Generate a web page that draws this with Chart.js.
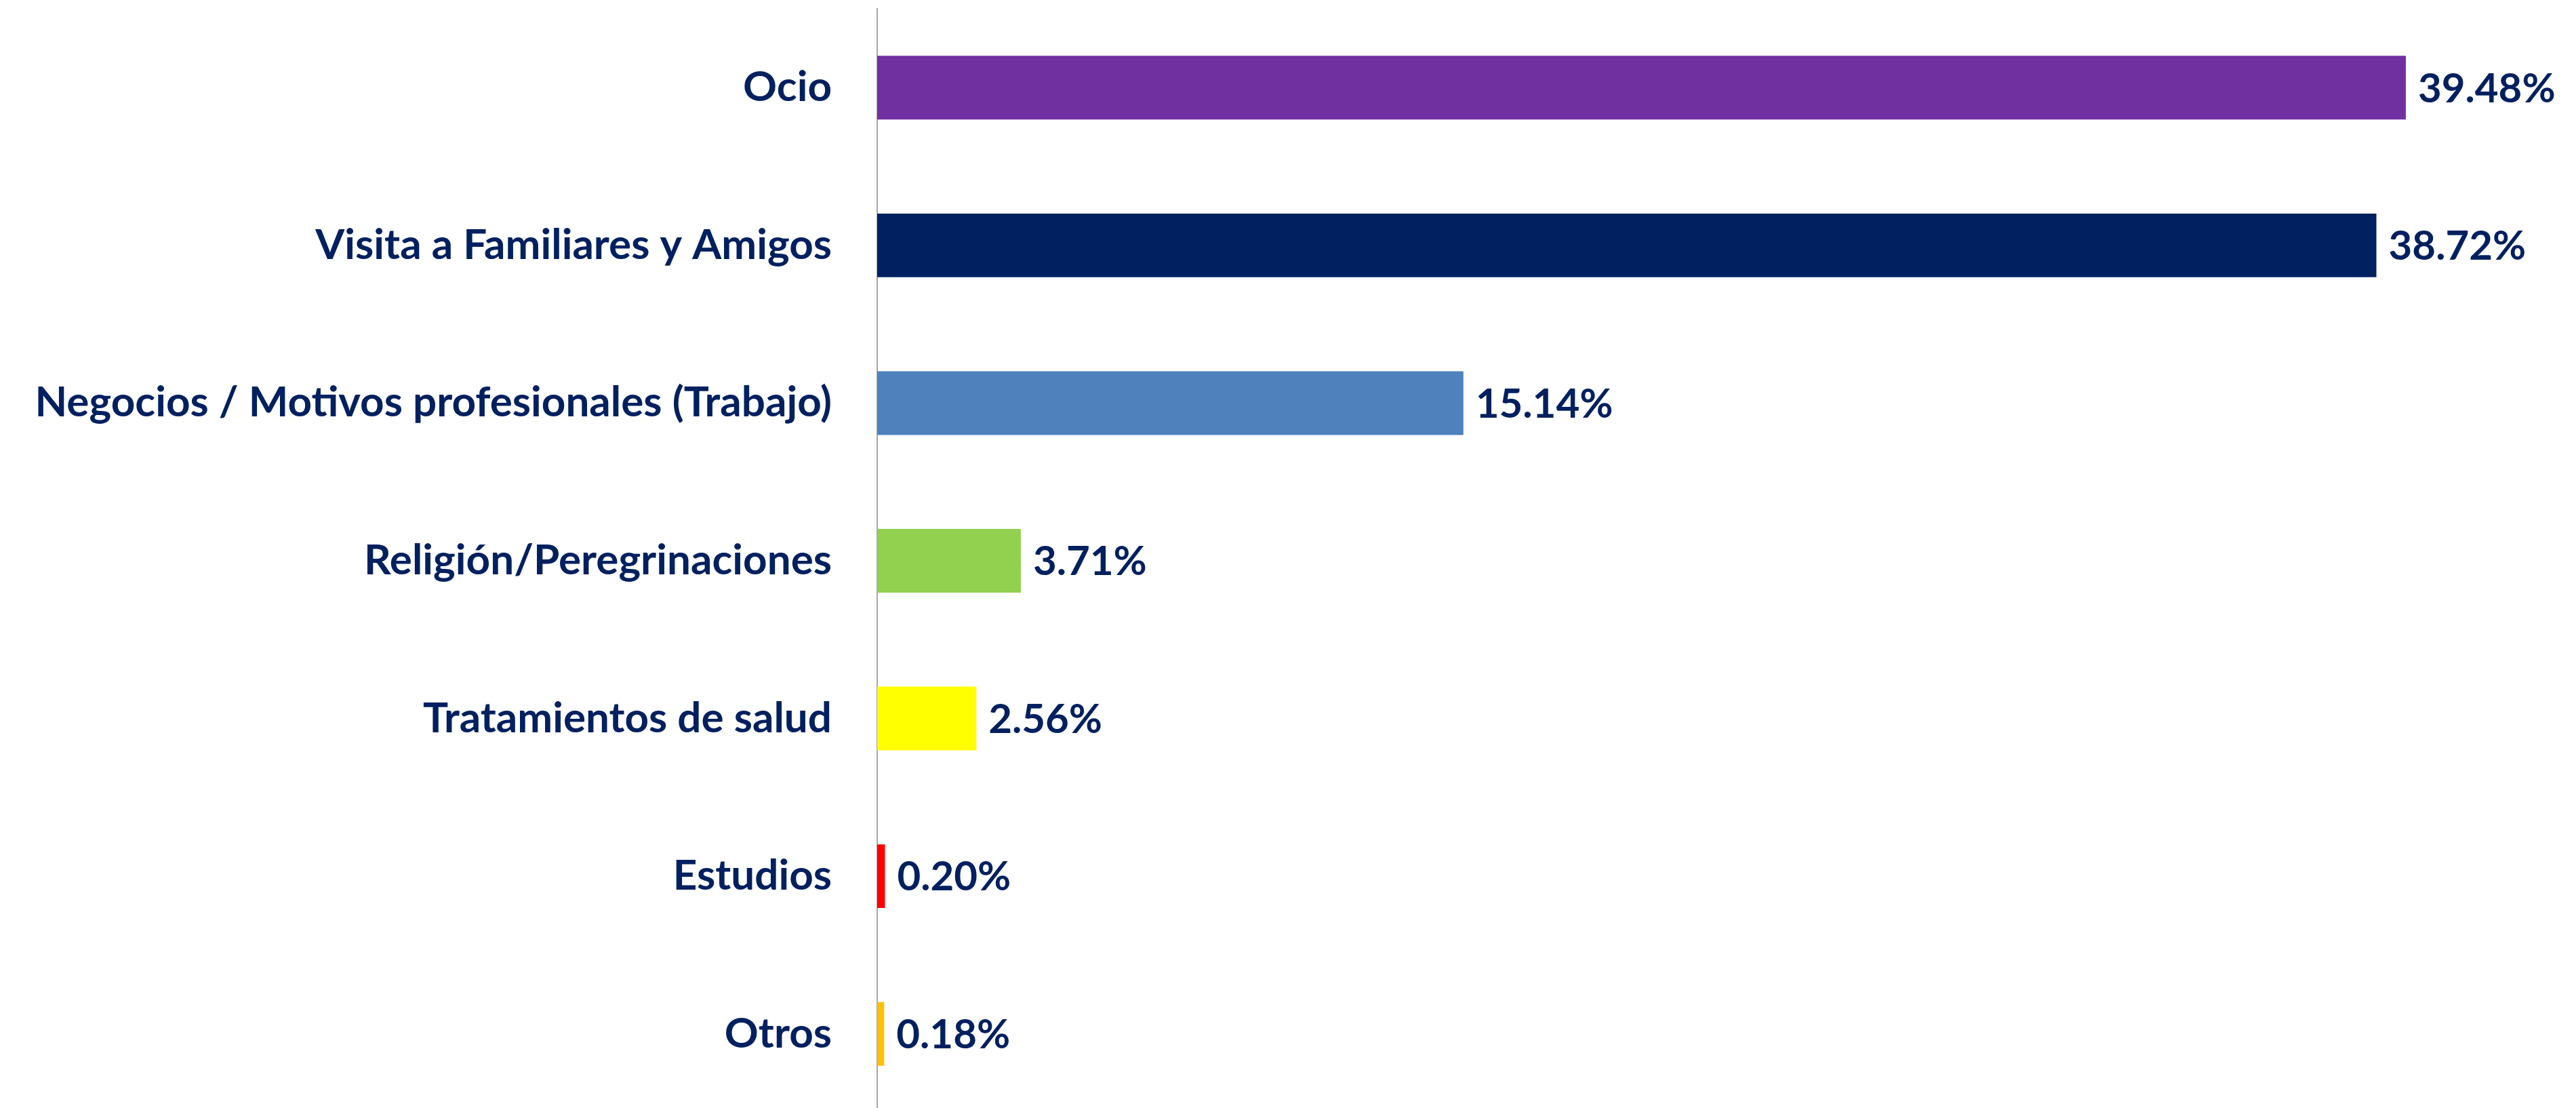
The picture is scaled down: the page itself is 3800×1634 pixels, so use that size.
<!DOCTYPE html>
<html>
<head>
<meta charset="utf-8">
<script src="https://cdn.jsdelivr.net/npm/chart.js@4.4.1/dist/chart.umd.min.js"></script>
<style>
  html, body { margin: 0; padding: 0; background: #ffffff; overflow: hidden; }
  #wrap { position: relative; width: 3800px; height: 1641px; }
</style>
</head>
<body>
<div id="wrap"><canvas id="c"></canvas></div>
<script>
const categories = [
  "Ocio",
  "Visita a Familiares y Amigos",
  "Negocios / Motivos profesionales (Trabajo)",
  "Religión/Peregrinaciones",
  "Tratamientos de salud",
  "Estudios",
  "Otros"
];
const values = [39.48, 38.72, 15.14, 3.71, 2.56, 0.20, 0.18];
const barColors = ["#7030A0", "#002060", "#4F81BD", "#92D050", "#FFFF00", "#FF0000", "#FFC000"];

const TEXT_COLOR = "#002060";
const FONT_FAMILY = "Lato, 'Open Sans', sans-serif";
const LABEL_FONT_SIZE = 62;
const VALUE_FONT_SIZE = 60;

const valueLabels = {
  id: "valueLabels",
  afterDatasetsDraw(chart) {
    const ctx = chart.ctx;
    const meta = chart.getDatasetMeta(0);
    ctx.save();
    ctx.font = "bold " + VALUE_FONT_SIZE + "px " + FONT_FAMILY;
    ctx.fillStyle = TEXT_COLOR;
    ctx.textAlign = "left";
    ctx.textBaseline = "middle";
    meta.data.forEach((el, i) => {
      ctx.fillText(values[i].toFixed(2) + "%", el.x + 18, el.y + 2);
    });
    ctx.restore();
  }
};

new Chart(document.getElementById("c"), {
  type: "bar",
  data: {
    labels: categories,
    datasets: [{
      data: values,
      backgroundColor: barColors,
      borderWidth: 0,
      categoryPercentage: 1.0,
      barPercentage: 0.404
    }]
  },
  options: {
    indexAxis: "y",
    responsive: true,
    maintainAspectRatio: false,
    animation: false,
    events: [],
    layout: { padding: { top: 13, right: 50, bottom: 0, left: 0 } },
    plugins: {
      legend: { display: false },
      tooltip: { enabled: false }
    },
    scales: {
      x: {
        display: false,
        min: 0,
        max: 43
      },
      y: {
        grid: { display: false, drawTicks: false },
        border: { display: true, color: "#a6a6a6", width: 2 },
        ticks: {
          color: TEXT_COLOR,
          padding: 67,
          autoSkip: false,
          font: { family: FONT_FAMILY, size: LABEL_FONT_SIZE, weight: "bold" }
        },
        afterFit(scale) {
          scale.width = 1294;
          scale.paddingTop = 0;
          scale.paddingBottom = 0;
        }
      }
    }
  },
  plugins: [valueLabels]
});
</script>
</body>
</html>
